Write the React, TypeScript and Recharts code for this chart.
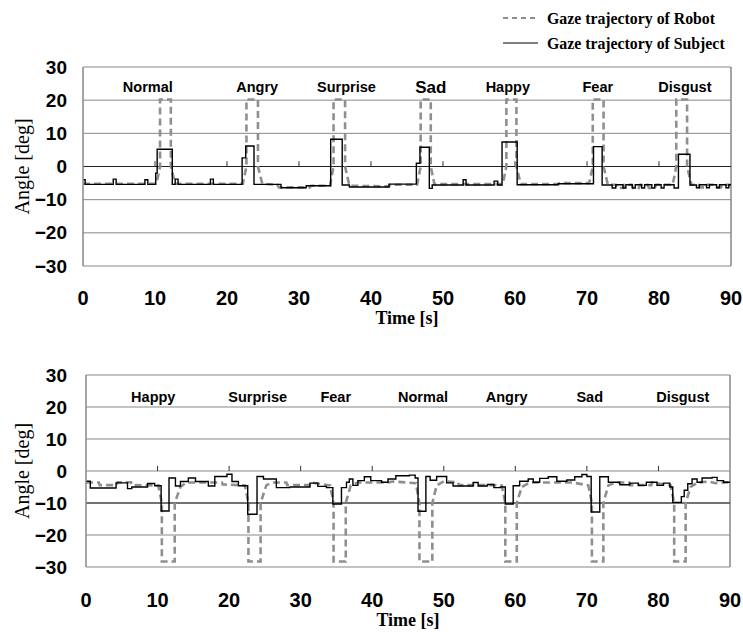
import React from 'react';
import { LineChart, Line, XAxis, YAxis, CartesianGrid, ReferenceLine, ReferenceDot } from 'recharts';

// Gaze trajectories, robot vs subject (two trials).

const SANS = '"Liberation Sans", Arial, sans-serif';
const SERIF = '"Liberation Serif", "Times New Roman", serif';

const timeTicks = [0, 10, 20, 30, 40, 50, 60, 70, 80, 90];
const angleTicks = [-30, -20, -10, 0, 10, 20, 30];
const axisMarks = [10, 20, 30, 40, 50, 60, 70, 80];

// ---- trial 1 (top) ----
const topEmotions = ['Normal', 'Angry', 'Surprise', 'Sad', 'Happy', 'Fear', 'Disgust'];
const topEmotionT = [9.0, 24.2, 36.6, 48.3, 59.0, 71.5, 83.6];

const topRobot = [
  { t: 0, v: -5.2 }, { t: 10.2, v: -5.2 }, { t: 10.7, v: 0 }, { t: 10.7, v: 20.2 }, { t: 12.2, v: 20.2 },
  { t: 12.2, v: 0 }, { t: 12.8, v: -5.2 }, { t: 22.2, v: -5.2 }, { t: 22.7, v: 0 }, { t: 22.7, v: 20.2 },
  { t: 24.3, v: 20.2 }, { t: 24.3, v: 0 }, { t: 24.9, v: -5.2 }, { t: 27, v: -5.5 }, { t: 27.2, v: -6.3 },
  { t: 31.5, v: -6.3 }, { t: 31.7, v: -5.8 }, { t: 34.3, v: -5.8 }, { t: 34.8, v: 0 }, { t: 34.8, v: 20.2 },
  { t: 36.4, v: 20.2 }, { t: 36.4, v: 0 }, { t: 37, v: -5.8 }, { t: 42.5, v: -6 }, { t: 42.7, v: -5.5 },
  { t: 46.4, v: -5.5 }, { t: 46.9, v: 0 }, { t: 46.9, v: 20.2 }, { t: 48.3, v: 20.2 }, { t: 48.3, v: 0 },
  { t: 48.8, v: -5.3 }, { t: 58.3, v: -5.3 }, { t: 58.8, v: 0 }, { t: 58.8, v: 20.2 }, { t: 60.2, v: 20.2 },
  { t: 60.2, v: 0 }, { t: 60.8, v: -5.3 }, { t: 66, v: -5.3 }, { t: 66.2, v: -5 }, { t: 70.3, v: -5 },
  { t: 70.8, v: 0 }, { t: 70.8, v: 20.2 }, { t: 72.3, v: 20.2 }, { t: 72.3, v: 0 }, { t: 72.9, v: -5.5 },
  { t: 74, v: -5.5 }, { t: 74.2, v: -6.5 }, { t: 75, v: -6.5 }, { t: 75.2, v: -5.5 }, { t: 76.2, v: -5.5 },
  { t: 76.4, v: -6.5 }, { t: 77.2, v: -6.5 }, { t: 77.4, v: -5.5 }, { t: 78.4, v: -5.5 }, { t: 78.6, v: -6.5 },
  { t: 79.4, v: -6.5 }, { t: 79.6, v: -5.5 }, { t: 81.9, v: -5.5 }, { t: 82.4, v: 0 }, { t: 82.4, v: 20.2 },
  { t: 83.9, v: 20.2 }, { t: 83.9, v: 0 }, { t: 84.5, v: -5.5 }, { t: 85.5, v: -5.5 }, { t: 85.7, v: -6.3 },
  { t: 86.5, v: -6.3 }, { t: 86.7, v: -5.5 }, { t: 87.6, v: -5.5 }, { t: 87.8, v: -6.3 }, { t: 88.6, v: -6.3 },
  { t: 88.8, v: -5.5 }, { t: 90, v: -5.5 },
];

const topSubject = [
  { t: 0, v: -4 }, { t: 0.3, v: -5.4 }, { t: 4.2, v: -3.8 }, { t: 4.6, v: -5.4 }, { t: 8.6, v: -4 },
  { t: 9.0, v: -5.4 }, { t: 10.1, v: -2 }, { t: 10.3, v: 5.2 }, { t: 12.4, v: -5.4 }, { t: 12.8, v: -3.8 },
  { t: 13.2, v: -5.4 }, { t: 17.7, v: -3.8 }, { t: 18.1, v: -5.4 }, { t: 22.1, v: 2.6 }, { t: 22.6, v: 6.2 },
  { t: 23.75, v: -5.4 }, { t: 27.5, v: -6.4 }, { t: 31, v: -5.8 }, { t: 34.4, v: 8.2 }, { t: 36.0, v: -5.6 },
  { t: 37, v: -6.2 }, { t: 42.5, v: -5.3 }, { t: 46.3, v: 1 }, { t: 46.8, v: 5.8 }, { t: 48.1, v: -6.6 },
  { t: 48.5, v: -5.6 }, { t: 52.8, v: -4 }, { t: 53.2, v: -5.6 }, { t: 57.1, v: -4.4 }, { t: 57.6, v: -5.6 },
  { t: 58.2, v: 7.4 }, { t: 60.3, v: -5.5 }, { t: 66, v: -5.2 }, { t: 70.9, v: 6.0 }, { t: 72.1, v: -5.6 },
  { t: 73.5, v: -6.5 }, { t: 74, v: -5.5 }, { t: 75, v: -6.5 }, { t: 75.4, v: -5.5 }, { t: 76.3, v: -6.5 },
  { t: 76.7, v: -5.5 }, { t: 77.6, v: -6.5 }, { t: 78, v: -5.5 }, { t: 79, v: -6.5 }, { t: 79.4, v: -5.5 },
  { t: 80.3, v: -6.5 }, { t: 80.7, v: -5.5 }, { t: 82.1, v: -6.5 }, { t: 82.7, v: 3.7 }, { t: 84.3, v: -5.6 },
  { t: 85.2, v: -6.4 }, { t: 85.6, v: -5.5 }, { t: 86.6, v: -6.4 }, { t: 87, v: -5.5 }, { t: 88, v: -6.4 },
  { t: 88.4, v: -5.5 }, { t: 89.3, v: -6.4 }, { t: 89.7, v: -5.5 }, { t: 90, v: -5.5 },
];

// ---- trial 2 (bottom) ----
const botEmotions = ['Happy', 'Surprise', 'Fear', 'Normal', 'Angry', 'Sad', 'Disgust'];
const botEmotionT = [9.4, 24.0, 34.9, 47.1, 58.8, 70.4, 83.4];

const botRobot = [
  { t: 0, v: -3.6 }, { t: 1.8, v: -3.6 }, { t: 1.9, v: -4.4 }, { t: 4.3, v: -4.4 }, { t: 4.4, v: -3.5 },
  { t: 6.3, v: -3.5 }, { t: 6.4, v: -4.4 }, { t: 10.1, v: -4.5 }, { t: 10.6, v: -10 }, { t: 10.6, v: -28.3 },
  { t: 12.4, v: -28.3 }, { t: 12.4, v: -10 }, { t: 13.2, v: -5 }, { t: 14, v: -3.6 }, { t: 19, v: -3.6 },
  { t: 19.1, v: -4.2 }, { t: 22.2, v: -4.5 }, { t: 22.7, v: -10 }, { t: 22.7, v: -28.3 }, { t: 24.4, v: -28.3 },
  { t: 24.4, v: -10 }, { t: 25.2, v: -4.5 }, { t: 26, v: -3.6 }, { t: 28, v: -3.6 }, { t: 28.1, v: -4.4 },
  { t: 31.5, v: -4.4 }, { t: 31.6, v: -3.6 }, { t: 34.1, v: -4.5 }, { t: 34.6, v: -10 }, { t: 34.6, v: -28.3 },
  { t: 36.3, v: -28.3 }, { t: 36.3, v: -10 }, { t: 37, v: -4.5 }, { t: 38, v: -3.6 }, { t: 42, v: -3.6 },
  { t: 43, v: -3.3 }, { t: 46.1, v: -3.8 }, { t: 46.6, v: -10 }, { t: 46.6, v: -28.3 }, { t: 48.4, v: -28.3 },
  { t: 48.4, v: -10 }, { t: 49, v: -4.5 }, { t: 50, v: -3.2 }, { t: 52, v: -3.5 }, { t: 52.1, v: -4.4 },
  { t: 57, v: -4.4 }, { t: 58.1, v: -4.5 }, { t: 58.6, v: -10 }, { t: 58.6, v: -28.3 }, { t: 60.2, v: -28.3 },
  { t: 60.2, v: -10 }, { t: 60.9, v: -5 }, { t: 62, v: -3.6 }, { t: 68, v: -3.6 }, { t: 70.2, v: -4.5 },
  { t: 70.7, v: -10 }, { t: 70.7, v: -28.3 }, { t: 72.3, v: -28.3 }, { t: 72.3, v: -10 }, { t: 73, v: -4.5 },
  { t: 74, v: -3.6 }, { t: 75.9, v: -3.6 }, { t: 76, v: -4.4 }, { t: 79, v: -4.4 }, { t: 79.1, v: -3.6 },
  { t: 81.7, v: -4.5 }, { t: 82.2, v: -10 }, { t: 82.2, v: -28.3 }, { t: 83.8, v: -28.3 }, { t: 83.8, v: -10 },
  { t: 84.5, v: -5 }, { t: 85.5, v: -3.6 }, { t: 87, v: -3.3 }, { t: 88, v: -3.8 }, { t: 90, v: -3.5 },
];

const botSubject = [
  { t: 0, v: -3.2 }, { t: 0.6, v: -5.3 }, { t: 4.2, v: -3.7 }, { t: 5.8, v: -5.5 }, { t: 6.4, v: -5.0 },
  { t: 8.6, v: -3.9 }, { t: 9.6, v: -4.6 }, { t: 10.5, v: -12.5 }, { t: 11.6, v: -2.2 }, { t: 12.5, v: -4.7 },
  { t: 13.2, v: -3.3 }, { t: 14.3, v: -2.2 }, { t: 15.3, v: -3.3 }, { t: 17.1, v: -4.7 }, { t: 18.0, v: -1.7 },
  { t: 19.7, v: -1.0 }, { t: 20.4, v: -3.3 }, { t: 21.3, v: -4.6 }, { t: 22.6, v: -13.5 }, { t: 23.9, v: -1.7 },
  { t: 24.8, v: -2.5 }, { t: 26.6, v: -5.2 }, { t: 28.5, v: -5.0 }, { t: 31.3, v: -3.8 }, { t: 32.4, v: -4.8 },
  { t: 33.6, v: -5.2 }, { t: 34.5, v: -10.3 }, { t: 35.7, v: -5.2 }, { t: 36.4, v: -3.5 }, { t: 36.8, v: -2.5 },
  { t: 37.3, v: -4.5 }, { t: 38.0, v: -3.0 }, { t: 38.9, v: -1.8 }, { t: 39.8, v: -3.0 }, { t: 41.3, v: -3.5 },
  { t: 42.2, v: -2.5 }, { t: 43.3, v: -1.5 }, { t: 45.2, v: -1.3 }, { t: 46.0, v: -2.2 }, { t: 46.4, v: -12.6 },
  { t: 47.5, v: -1.7 }, { t: 48.1, v: -2.9 }, { t: 49.0, v: -1.7 }, { t: 50.4, v: -3.7 }, { t: 51.3, v: -4.7 },
  { t: 54.1, v: -3.6 }, { t: 54.8, v: -4.7 }, { t: 56.1, v: -4.2 }, { t: 57.0, v: -5.2 }, { t: 57.9, v: -5.0 },
  { t: 58.6, v: -10.3 }, { t: 59.7, v: -4.6 }, { t: 60.6, v: -3.2 }, { t: 61.8, v: -2.5 }, { t: 62.5, v: -3.5 },
  { t: 63.4, v: -2.3 }, { t: 64.6, v: -1.8 }, { t: 65.8, v: -3.2 }, { t: 67.2, v: -2.8 }, { t: 68.3, v: -1.8 },
  { t: 69.3, v: -1.1 }, { t: 70.0, v: -1.7 }, { t: 70.6, v: -12.8 }, { t: 71.8, v: -1.8 }, { t: 73.0, v: -3.5 },
  { t: 74.6, v: -4.3 }, { t: 76.0, v: -3.8 }, { t: 77.2, v: -4.5 }, { t: 78.3, v: -3.5 }, { t: 79.8, v: -4.5 },
  { t: 80.7, v: -3.8 }, { t: 81.6, v: -5.0 }, { t: 82.0, v: -9.8 }, { t: 83.2, v: -8.0 }, { t: 83.6, v: -6.0 },
  { t: 84.1, v: -4.0 }, { t: 84.7, v: -2.5 }, { t: 85.4, v: -3.5 }, { t: 86.1, v: -2.2 }, { t: 87.5, v: -2.0 },
  { t: 88.2, v: -3.0 }, { t: 89.1, v: -3.5 }, { t: 90, v: -3.5 },
];

const GRID = '#878787';
const ROBOT = '#8f8f8f';

const fmtAngle = (v: number) => String(v).replace('-', '\u2212');

const YTick = (gap: number) => (props: any) => {
  const { x, y, payload } = props;
  return (
    <text x={x - gap} y={y} textAnchor="end" dominantBaseline="central"
      fontFamily={SANS} fontWeight="bold" fontSize={19} fill="#000">
      {fmtAngle(payload.value)}
    </text>
  );
};

const XTick = (gap: number) => (props: any) => {
  const { x, y, payload } = props;
  return (
    <text x={x} y={y + gap} textAnchor="middle" dominantBaseline="central"
      fontFamily={SANS} fontWeight="bold" fontSize={20} fill="#000">
      {payload.value}
    </text>
  );
};

type PanelProps = {
  width: number;
  height: number;
  margin: { top: number; right: number; left: number; bottom: number };
  yWidth: number;
  xHeight: number;
  robot: { t: number; v: number }[];
  subject: { t: number; v: number }[];
  emotions: string[];
  emotionT: number[];
  labelY: number;
  darkLine: number;
  tickGap: number;
  titleOffset: number;
  bigLabel?: string;
};

const Panel = (p: PanelProps) => (
  <LineChart width={p.width} height={p.height} margin={p.margin}>
    <CartesianGrid vertical={false} stroke={GRID} strokeWidth={1} />
    <XAxis
      dataKey="t"
      type="number"
      domain={[0, 90]}
      ticks={timeTicks}
      height={p.xHeight}
      axisLine={false}
      tickLine={false}
      tickSize={0}
      tickMargin={0}
      tick={XTick(p.tickGap)}
      interval={0}
      label={{
        value: 'Time [s]',
        position: 'insideBottom',
        offset: p.titleOffset,
        fontFamily: SERIF,
        fontWeight: 'bold',
        fontSize: 18,
        fill: '#000',
      }}
    />
    <YAxis
      type="number"
      domain={[-30, 30]}
      ticks={angleTicks}
      width={p.yWidth}
      axisLine={{ stroke: GRID, strokeWidth: 1.5 }}
      tickLine={false}
      tickSize={0}
      tickMargin={0}
      tick={YTick(p.yWidth - 67)}
      interval={0}
      allowDataOverflow
      label={{
        value: 'Angle [deg]',
        angle: -90,
        position: 'insideLeft',
        offset: 22,
        style: { textAnchor: 'middle' },
        fontFamily: SERIF,
        fontSize: 20,
        fill: '#000',
      }}
    />
    <ReferenceLine x={90} stroke={GRID} strokeWidth={1.5} />
    <ReferenceLine y={p.darkLine} stroke="#222" strokeWidth={1} />
    {axisMarks.map((t) => (
      <ReferenceLine key={t} segment={[{ x: t, y: 0 }, { x: t, y: 1.6 }]} stroke="#333" strokeWidth={1} />
    ))}
    {p.emotions.map((e, i) => (
      <ReferenceDot
        key={e}
        x={p.emotionT[i]}
        y={p.labelY}
        r={0}
        fill="none"
        stroke="none"
        label={{
          value: e,
          position: 'center',
          fontFamily: SANS,
          fontWeight: 'bold',
          fontSize: e === p.bigLabel ? 17 : 14.5,
          fill: '#000',
        }}
      />
    ))}
    <Line
      data={p.robot}
      dataKey="v"
      type="linear"
      stroke={ROBOT}
      strokeWidth={2.6}
      strokeDasharray="7 4"
      dot={false}
      isAnimationActive={false}
    />
    <Line
      data={p.subject}
      dataKey="v"
      type="stepAfter"
      stroke="#000"
      strokeWidth={1.4}
      dot={false}
      isAnimationActive={false}
    />
  </LineChart>
);

const Legend = () => (
  <svg width={743} height={60} style={{ position: 'absolute', left: 0, top: 0 }}>
    <line x1={503} x2={538} y1={18} y2={18} stroke={ROBOT} strokeWidth={2} strokeDasharray="5 4" />
    <text x={547} y={18} dominantBaseline="central" fontFamily={SERIF} fontWeight="bold" fontSize={15.8} fill="#000">
      Gaze trajectory of Robot
    </text>
    <line x1={503} x2={538} y1={43} y2={43} stroke="#000" strokeWidth={1.2} />
    <text x={547} y={43} dominantBaseline="central" fontFamily={SERIF} fontWeight="bold" fontSize={15.8} fill="#000">
      Gaze trajectory of Subject
    </text>
  </svg>
);

export default function App() {
  return (
    <div style={{ position: 'absolute', left: 0, top: 0, width: 743, height: 632, background: '#fff' }}>
      <div style={{ position: 'absolute', left: 0, top: 0 }}>
        <Panel
          width={743}
          height={330}
          margin={{ top: 67, right: 12, left: 0, bottom: 0 }}
          yWidth={83}
          xHeight={64}
          robot={topRobot}
          subject={topSubject}
          emotions={topEmotions}
          emotionT={topEmotionT}
          labelY={23.9}
          darkLine={0}
          tickGap={32}
          titleOffset={6}
          bigLabel="Sad"
        />
      </div>
      <div style={{ position: 'absolute', left: 0, top: 320 }}>
        <Panel
          width={743}
          height={312}
          margin={{ top: 55, right: 13, left: 0, bottom: 0 }}
          yWidth={86}
          xHeight={65}
          robot={botRobot}
          subject={botSubject}
          emotions={botEmotions}
          emotionT={botEmotionT}
          labelY={23.1}
          darkLine={-10}
          tickGap={33}
          titleOffset={6}
        />
      </div>
      <Legend />
    </div>
  );
}
